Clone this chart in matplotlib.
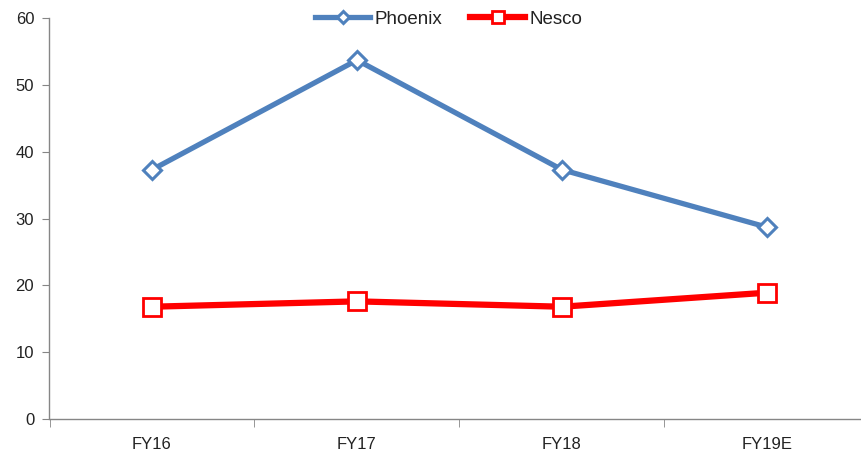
import matplotlib
matplotlib.use("Agg")
import matplotlib.pyplot as plt

categories = ["FY16", "FY17", "FY18", "FY19E"]
phoenix = [37.3, 53.7, 37.3, 28.7]
nesco = [16.8, 17.6, 16.8, 18.9]
y_ticks = [0, 10, 20, 30, 40, 50, 60]

plt.rcParams["font.family"] = ["Liberation Sans", "DejaVu Sans"]

W, H = 862, 457
fig = plt.figure(figsize=(W / 100, H / 100), dpi=100)
left, right = 49.5, 869.5
top, bottom = 18, 419
ax = fig.add_axes([left / W, 1 - bottom / H, (right - left) / W, (bottom - top) / H])

x = list(range(len(categories)))
ax.plot(x, phoenix, color="#4F81BD", lw=3.8, marker="D", ms=9.5,
        mfc="white", mec="#4F81BD", mew=2.2, label="Phoenix", solid_joinstyle="round")
ax.plot(x, nesco, color="#FF0000", lw=4.5, marker="s", ms=12.5,
        mfc="white", mec="#FF0000", mew=2.0, label="Nesco", solid_joinstyle="round")

ax.set_xlim(-0.5, len(categories) - 0.5)
ax.set_ylim(0, 60)
ax.set_yticks(y_ticks)
ax.set_xticks(x)
ax.set_xticklabels(categories)
ax.set_xticks([i - 0.5 for i in range(len(categories) + 1)], minor=True)

axis_color = "#868686"
for side in ("top", "right"):
    ax.spines[side].set_visible(False)
for side in ("left", "bottom"):
    ax.spines[side].set_color(axis_color)
    ax.spines[side].set_linewidth(1.0)

ax.tick_params(axis="y", direction="out", length=5, color=axis_color,
               labelsize=12, labelcolor="#222222", pad=6)
ax.tick_params(axis="x", which="major", length=0, labelsize=12,
               labelcolor="#222222", pad=13)
ax.tick_params(axis="x", which="minor", direction="out", length=6, color=axis_color)

leg = ax.legend(loc="upper center", bbox_to_anchor=(0.487, 1.06), ncol=2,
                frameon=False, fontsize=13.5, handlelength=2.9, markerscale=0.65,
                columnspacing=1.5, handletextpad=0.25, labelcolor="#222222")

fig.savefig("out.png", dpi=100)
